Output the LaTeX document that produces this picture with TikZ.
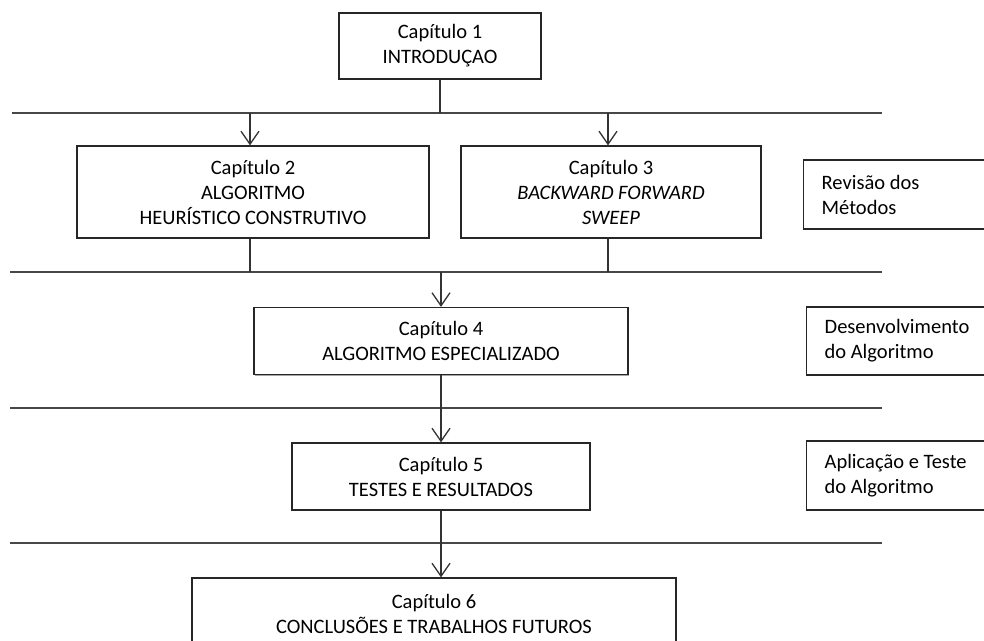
\documentclass[tikz,border=0pt]{standalone}
\usepackage{fontspec}
\setmainfont{Carlito}
\usetikzlibrary{arrows.meta,shadows}

\begin{document}
\begin{tikzpicture}[x=1pt,y=-1pt,
  every node/.style={font=\fontsize{20.5}{25}\selectfont},
  chapbox/.style={draw=black!85, line width=1.3pt, fill=white, align=center,
    inner sep=0pt, drop shadow={shadow xshift=1.3pt, shadow yshift=-1.3pt, fill=black!35, opacity=1}},
  sidebox/.style={chapbox, anchor=west, align=flush left, text width=170pt, inner xsep=18pt},
  bar/.style={draw=black!72, line width=2.2pt},
  conn/.style={draw=black!80, line width=1.2pt},
  arr/.style={conn, -{Straight Barb[length=13pt, width=18pt, line width=1.3pt]}}
]
\useasboundingbox (0,0) rectangle (984,640);
\clip (0,0) rectangle (984,640);

% chapter boxes
\node[chapbox, minimum width=202pt, minimum height=66pt] (b1) at (440,46)
  {Capítulo 1\\INTRODUÇAO};
\node[chapbox, minimum width=352pt, minimum height=92pt] (b2) at (253,192)
  {Capítulo 2\\ALGORITMO\\HEURÍSTICO CONSTRUTIVO};
\node[chapbox, minimum width=300pt, minimum height=92pt] (b3) at (611,192)
  {Capítulo 3\\\textit{BACKWARD FORWARD}\\\textit{SWEEP}};
\node[chapbox, minimum width=374pt, minimum height=67pt] (b4) at (441,341)
  {Capítulo 4\\ALGORITMO ESPECIALIZADO};
\node[chapbox, minimum width=298pt, minimum height=67pt] (b5) at (441,476.5)
  {Capítulo 5\\TESTES E RESULTADOS};
\node[chapbox, minimum width=484pt, minimum height=71pt] (b6) at (434,613.5)
  {Capítulo 6\\CONCLUSÕES E TRABALHOS FUTUROS};

% phase labels on the right
\node[sidebox, minimum height=69pt] (r1) at (803,194.5) {Revisão dos\\Métodos};
\node[sidebox, minimum height=68pt] (r2) at (806,341) {Desenvolvimento\\do Algoritmo};
\node[sidebox, minimum height=69pt] (r3) at (806,475.5) {Aplicação e Teste\\do Algoritmo};

% horizontal separators
\draw[bar] (12,113) coordinate (s1w) -- (882,113) coordinate (s1e);
\draw[bar] (10,272) coordinate (s2w) -- (882,272) coordinate (s2e);
\draw[bar] (10,408) coordinate (s3w) -- (882,408) coordinate (s3e);
\draw[bar] (10,543) coordinate (s4w) -- (882,543) coordinate (s4e);

% connectors
\draw[conn] (b1.south) -- (b1.south |- s1w);
\draw[arr] ([xshift=-3pt]b2.north |- s1w) -- ([xshift=-3pt]b2.north);
\draw[arr] ([xshift=-3pt]b3.north |- s1w) -- ([xshift=-3pt]b3.north);
\draw[conn] ([xshift=-3pt]b2.south) -- ([xshift=-3pt]b2.south |- s2w);
\draw[conn] ([xshift=-3pt]b3.south) -- ([xshift=-3pt]b3.south |- s2w);
\draw[arr] (b4.north |- s2w) -- (b4.north);
\draw[arr] (b4.south) -- (b5.north);
\draw[arr] (b5.south) -- (b5.south |- b6.north);
\end{tikzpicture}
\end{document}
